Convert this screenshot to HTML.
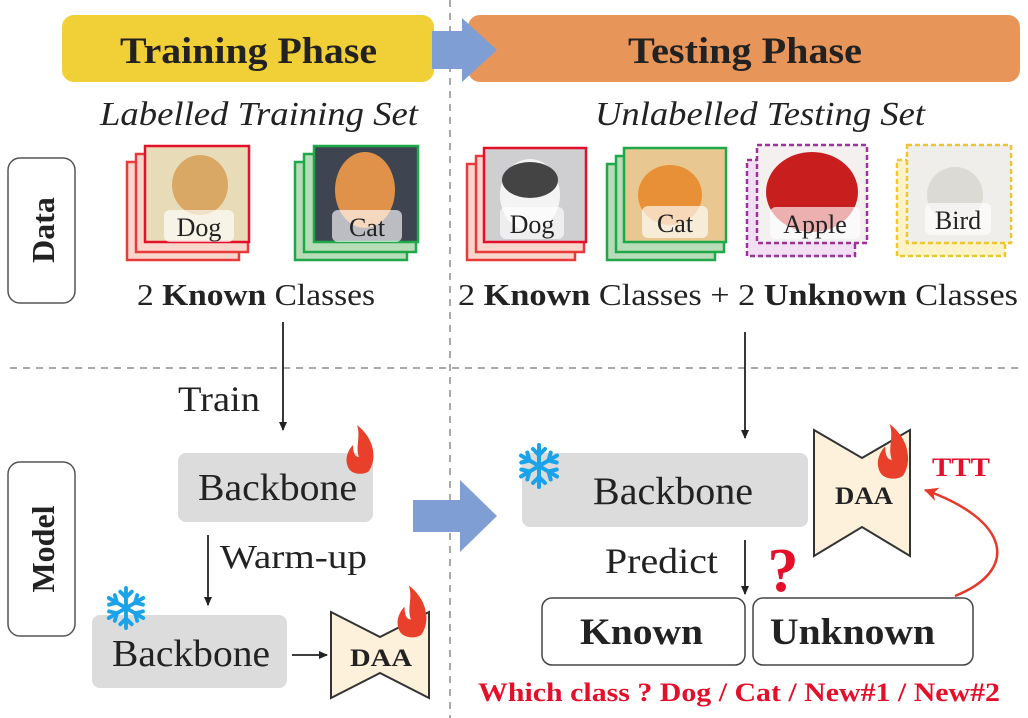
<!DOCTYPE html><html><head><style>body{margin:0;background:#fff}svg{display:block}</style></head><body>
<svg width="1028" height="718" viewBox="0 0 1028 718" font-family="Liberation Serif, serif">
<defs>
<marker id="ah" markerWidth="10" markerHeight="10" refX="8" refY="5" orient="auto" markerUnits="userSpaceOnUse"><path d="M0,1 L9,5 L0,9 Z" fill="#222"/></marker>
<marker id="rh" markerWidth="16" markerHeight="16" refX="13" refY="8" orient="auto" markerUnits="userSpaceOnUse"><path d="M0,1 L14,8 L0,15 L4,8 Z" fill="#e8382a"/></marker>
<symbol id="flame" viewBox="0 0 30 50"><path d="M12,0 C30,14 32,34 24,46 C20,50 8,50 4,44 C-2,34 4,24 8,20 C8,28 10,32 14,32 C10,22 16,12 12,0 Z" fill="#e8402a"/></symbol>
<symbol id="snow" viewBox="-24 -24 48 48"><g stroke="#1aa3e8" stroke-width="4" stroke-linecap="round" fill="none"><path d="M0,-21V21M-18,-10.5L18,10.5M-18,10.5L18,-10.5"/><path d="M-6,-17L0,-11L6,-17M-6,17L0,11L6,17M-17.7,-3.5L-9.5,-5.5L-11.7,-13.5M17.7,3.5L9.5,5.5L11.7,13.5M-17.7,3.5L-9.5,5.5L-11.7,13.5M17.7,-3.5L9.5,-5.5L11.7,-13.5"/></g></symbol>
</defs>
<line x1="450" y1="0" x2="450" y2="718" stroke="#aaa" stroke-width="2" stroke-dasharray="7,6"/>
<line x1="10" y1="368" x2="1020" y2="368" stroke="#aaa" stroke-width="2" stroke-dasharray="7,6"/>
<rect x="62" y="15" width="372" height="67" rx="12" fill="#f1cf36"/>
<rect x="468" y="15" width="552" height="67" rx="12" fill="#e8955a"/>
<path d="M432,31 H462 V18 L497,50 L462,82 V69 H432 Z" fill="#7f9fd4"/>
<text x="120" y="63" font-size="37" font-weight="bold" fill="#222" textLength="257" lengthAdjust="spacingAndGlyphs">Training Phase</text>
<text x="628" y="63" font-size="37" font-weight="bold" fill="#222" textLength="234" lengthAdjust="spacingAndGlyphs">Testing Phase</text>
<text x="100" y="125" font-size="34" font-style="italic" fill="#222" textLength="318" lengthAdjust="spacingAndGlyphs">Labelled Training Set</text>
<text x="595" y="125" font-size="34" font-style="italic" fill="#222" textLength="330" lengthAdjust="spacingAndGlyphs">Unlabelled Testing Set</text>
<rect x="8" y="158" width="67" height="145" rx="12" fill="none" stroke="#555" stroke-width="1.5"/>
<text transform="translate(54,230) rotate(-90)" font-size="32" font-weight="bold" text-anchor="middle" fill="#222">Data</text>
<rect x="8" y="462" width="67" height="174" rx="12" fill="none" stroke="#555" stroke-width="1.5"/>
<text transform="translate(54,549) rotate(-90)" font-size="32" font-weight="bold" text-anchor="middle" fill="#222">Model</text>
<g stroke-width="2.5">
<rect x="127" y="162" width="112" height="98" fill="#f9d6cc" stroke="#e83a3a"/>
<rect x="136" y="154" width="112" height="98" fill="#f9d6cc" stroke="#e83a3a"/>
<rect x="145" y="146" width="104" height="96" fill="#e8dcb8" stroke="#e4102a"/>
<rect x="295" y="162" width="112" height="98" fill="#b8dcb8" stroke="#1fa84a"/>
<rect x="304" y="154" width="112" height="98" fill="#b8dcb8" stroke="#1fa84a"/>
<rect x="314" y="146" width="104" height="96" fill="#3e4450" stroke="#1fa84a"/>
<rect x="467" y="164" width="108" height="96" fill="#f9d6cc" stroke="#e83a3a"/>
<rect x="476" y="156" width="108" height="96" fill="#f9d6cc" stroke="#e83a3a"/>
<rect x="484" y="148" width="102" height="94" fill="#cfcfd2" stroke="#e4102a"/>
<rect x="607" y="164" width="108" height="96" fill="#b8dcb8" stroke="#1fa84a"/>
<rect x="616" y="156" width="108" height="96" fill="#b8dcb8" stroke="#1fa84a"/>
<rect x="624" y="148" width="102" height="94" fill="#e8c890" stroke="#1fa84a"/>
<rect x="747" y="160" width="108" height="96" fill="#f3dff3" stroke="#a0309a" stroke-dasharray="5,3"/>
<rect x="757" y="145" width="110" height="98" fill="#f4f0f0" stroke="#a0309a" stroke-dasharray="5,3"/>
<rect x="897" y="160" width="108" height="96" fill="#fcf4c8" stroke="#efc530" stroke-dasharray="5,3"/>
<rect x="907" y="145" width="104" height="98" fill="#f0eeea" stroke="#efc530" stroke-dasharray="5,3"/>
</g>
<ellipse cx="200" cy="185" rx="28" ry="30" fill="#d9a864"/>
<ellipse cx="365" cy="190" rx="30" ry="38" fill="#e0924a"/>
<ellipse cx="530" cy="195" rx="30" ry="36" fill="#f4f4f4"/><ellipse cx="530" cy="180" rx="28" ry="18" fill="#444"/>
<ellipse cx="670" cy="195" rx="32" ry="30" fill="#e89038"/>
<ellipse cx="812" cy="192" rx="46" ry="40" fill="#c81e1e"/>
<ellipse cx="955" cy="195" rx="28" ry="28" fill="#dcdad4"/>
<g fill="#fff" fill-opacity="0.65">
<rect x="164" y="210" width="70" height="32" rx="6"/><rect x="332" y="210" width="70" height="32" rx="6"/>
<rect x="500" y="207" width="64" height="32" rx="6"/><rect x="642" y="206" width="66" height="32" rx="6"/>
<rect x="770" y="207" width="90" height="32" rx="6"/><rect x="925" y="203" width="66" height="32" rx="6"/>
</g>
<g font-size="26" text-anchor="middle" fill="#222">
<text x="199" y="236">Dog</text><text x="367" y="236">Cat</text><text x="532" y="233">Dog</text>
<text x="675" y="232">Cat</text><text x="815" y="233">Apple</text><text x="958" y="229">Bird</text>
</g>
<g font-size="31" fill="#222">
<text x="137" y="305" textLength="238" lengthAdjust="spacingAndGlyphs">2 <tspan font-weight="bold">Known</tspan> Classes</text>
<text x="458" y="305" textLength="560" lengthAdjust="spacingAndGlyphs">2 <tspan font-weight="bold">Known</tspan> Classes  +  2 <tspan font-weight="bold">Unknown</tspan> Classes</text>
</g>
<line x1="283" y1="322" x2="283" y2="430" stroke="#222" stroke-width="1.8" marker-end="url(#ah)"/>
<text x="178" y="411" font-size="36" fill="#222" textLength="82" lengthAdjust="spacingAndGlyphs">Train</text>
<rect x="178" y="453" width="195" height="69" rx="8" fill="#dcdcdc"/>
<text x="198" y="500" font-size="38" fill="#222" textLength="159" lengthAdjust="spacingAndGlyphs">Backbone</text>
<use href="#flame" x="345" y="425" width="30" height="50"/>
<line x1="208" y1="535" x2="208" y2="605" stroke="#222" stroke-width="1.8" marker-end="url(#ah)"/>
<text x="220" y="568" font-size="34" fill="#222" textLength="147" lengthAdjust="spacingAndGlyphs">Warm-up</text>
<rect x="92" y="615" width="195" height="73" rx="8" fill="#dcdcdc"/>
<text x="112" y="666" font-size="38" fill="#222" textLength="158" lengthAdjust="spacingAndGlyphs">Backbone</text>
<use href="#snow" x="103" y="585" width="46" height="46"/>
<line x1="292" y1="655" x2="327" y2="655" stroke="#222" stroke-width="1.8" marker-end="url(#ah)"/>
<path d="M331,612 L380,637 L429,612 V698 L380,673 L331,698 Z" fill="#fdf1dc" stroke="#333" stroke-width="2"/>
<text x="350" y="666" font-size="25" font-weight="bold" fill="#222" textLength="62" lengthAdjust="spacingAndGlyphs">DAA</text>
<use href="#flame" x="396" y="585" width="32" height="54"/>
<path d="M413,500 H460 V480 L497,516 L460,552 V532 H413 Z" fill="#7f9fd4"/>
<line x1="745" y1="332" x2="745" y2="438" stroke="#222" stroke-width="1.8" marker-end="url(#ah)"/>
<rect x="522" y="453" width="286" height="74" rx="8" fill="#dcdcdc"/>
<use href="#snow" x="515" y="442" width="48" height="48"/>
<text x="593" y="504" font-size="39" fill="#222" textLength="160" lengthAdjust="spacingAndGlyphs">Backbone</text>
<path d="M814,430 L862,458 L910,430 V556 L862,527 L814,556 Z" fill="#fdf1dc" stroke="#333" stroke-width="2"/>
<text x="835" y="504" font-size="25" font-weight="bold" fill="#222" textLength="58" lengthAdjust="spacingAndGlyphs">DAA</text>
<use href="#flame" x="876" y="424" width="34" height="56"/>
<text x="932" y="476" font-size="26" font-weight="bold" fill="#e4102a" textLength="58" lengthAdjust="spacingAndGlyphs">TTT</text>
<path d="M955,596 C1020,570 1010,520 925,490" fill="none" stroke="#e8382a" stroke-width="2.5" marker-end="url(#rh)"/>
<text x="605" y="573" font-size="36" fill="#222" textLength="113" lengthAdjust="spacingAndGlyphs">Predict</text>
<line x1="745" y1="540" x2="745" y2="594" stroke="#222" stroke-width="1.8" marker-end="url(#ah)"/>
<text x="783" y="591" font-size="62" font-weight="bold" text-anchor="middle" fill="#e4102a">?</text>
<rect x="542" y="598" width="203" height="67" rx="10" fill="#fff" stroke="#444" stroke-width="1.5"/>
<text x="580" y="644" font-size="37" font-weight="bold" fill="#222" textLength="123" lengthAdjust="spacingAndGlyphs">Known</text>
<rect x="753" y="598" width="220" height="67" rx="10" fill="#fff" stroke="#444" stroke-width="1.5"/>
<text x="770" y="644" font-size="37" font-weight="bold" fill="#222" textLength="165" lengthAdjust="spacingAndGlyphs">Unknown</text>
<text x="478" y="701" font-size="26" font-weight="bold" fill="#e4102a" textLength="522" lengthAdjust="spacingAndGlyphs">Which class ? Dog / Cat / New#1 / New#2</text>
</svg>
</body></html>
